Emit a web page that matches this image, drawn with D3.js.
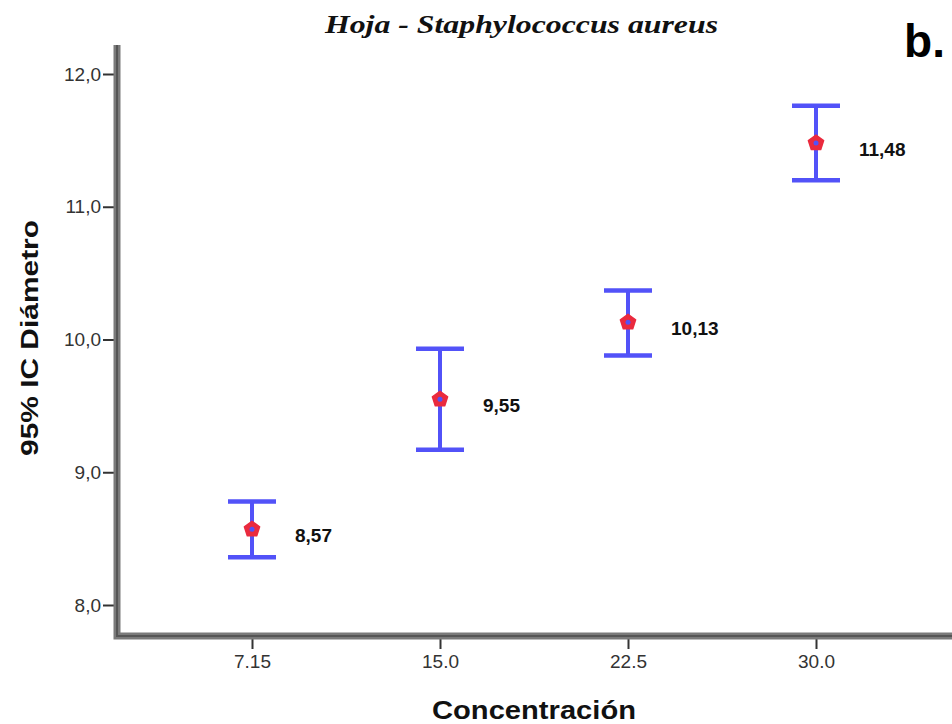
<!DOCTYPE html>
<html>
<head>
<meta charset="utf-8">
<script src="https://cdn.jsdelivr.net/npm/d3@7"></script>
<style>
  body { margin: 0; background: #fff; }
</style>
</head>
<body>
<div id="chart"></div>
<script>
// data
const categories = ["7.15", "15.0", "22.5", "30.0"];
const means = [8.57, 9.55, 10.13, 11.48];
const lowerCI = [8.36, 9.17, 9.88, 11.20];
const upperCI = [8.78, 9.93, 10.37, 11.76];
const yTicks = [8, 9, 10, 11, 12];

const width = 952;
const height = 724;
const axisX = 117, axisY = 636;
const sans = "'Liberation Sans', Arial, sans-serif";

let svg = d3.select("#chart")
            .append("svg")
            .attr("width", width)
            .attr("height", height);

let yScale = d3.scaleLinear()
            .domain([8, 12])
            .range([605, 74]);

let xScale = d3.scalePoint()
            .domain(categories)
            .range([252, 816]);

const rows = categories.map(function(c, i) {
    return {cat: c, mean: means[i], lo: lowerCI[i], hi: upperCI[i]};
});

// title
svg.append("text")
    .attr("x", 325).attr("y", 33)
    .attr("textLength", 393)
    .attr("lengthAdjust", "spacingAndGlyphs")
    .style("font-family", "'Liberation Serif', 'DejaVu Serif', serif")
    .style("font-style", "italic")
    .style("font-weight", "bold")
    .style("font-size", "25px")
    .style("fill", "#111")
    .text("Hoja - Staphylococcus aureus");

svg.append("text")
    .attr("x", 945).attr("y", 57)
    .attr("text-anchor", "end")
    .style("font-family", sans)
    .style("font-weight", "bold")
    .style("font-size", "46px")
    .text("b.");

// y axis
let yAxis = svg.append("g")
    .attr("transform", "translate(" + (axisX - 3) + ",0)")
    .call(d3.axisLeft(yScale).tickValues(yTicks).tickSize(11).tickPadding(2)
        .tickFormat(function(d) { return d3.format(".1f")(d).replace(".", ","); }));
yAxis.select(".domain").remove();
yAxis.selectAll(".tick line").style("stroke", "#333").style("stroke-width", 2);
yAxis.selectAll(".tick text")
    .style("font-family", sans)
    .style("font-size", "19px")
    .style("fill", "#333");

// x axis
let xAxis = svg.append("g")
    .attr("transform", "translate(0," + (axisY + 3) + ")")
    .call(d3.axisBottom(xScale).tickSize(10).tickPadding(6));
xAxis.select(".domain").remove();
xAxis.selectAll(".tick line").style("stroke", "#333").style("stroke-width", 2);
xAxis.selectAll(".tick text")
    .style("font-family", sans)
    .style("font-size", "19px")
    .style("fill", "#333");

// thick gray axis lines
svg.append("path")
    .attr("d", "M" + axisX + ",45 V" + axisY + " H" + width)
    .style("fill", "none")
    .style("stroke", "#7a7a7a")
    .style("stroke-width", 7);
svg.append("path")
    .attr("d", "M" + axisX + ",45 V" + axisY + " H" + width)
    .style("fill", "none")
    .style("stroke", "#555")
    .style("stroke-width", 2);

// axis titles
svg.append("text")
    .attr("x", 432).attr("y", 719)
    .attr("textLength", 204)
    .attr("lengthAdjust", "spacingAndGlyphs")
    .style("font-family", sans)
    .style("font-weight", "bold")
    .style("font-size", "25px")
    .style("fill", "#111")
    .text("Concentración");

svg.append("text")
    .attr("transform", "translate(38,456) rotate(-90)")
    .attr("textLength", 236)
    .attr("lengthAdjust", "spacingAndGlyphs")
    .style("font-family", sans)
    .style("font-weight", "bold")
    .style("font-size", "24px")
    .style("fill", "#111")
    .text("95% IC Diámetro");

// error bars
const blue = "#5252f8";
let bars = svg.append("g").selectAll("g")
    .data(rows)
    .enter()
    .append("g");

bars.append("line")
    .attr("x1", function(d) { return xScale(d.cat); })
    .attr("x2", function(d) { return xScale(d.cat); })
    .attr("y1", function(d) { return yScale(d.lo); })
    .attr("y2", function(d) { return yScale(d.hi); })
    .style("stroke", blue).style("stroke-width", 4);

bars.append("line")
    .attr("x1", function(d) { return xScale(d.cat) - 24; })
    .attr("x2", function(d) { return xScale(d.cat) + 24; })
    .attr("y1", function(d) { return yScale(d.hi); })
    .attr("y2", function(d) { return yScale(d.hi); })
    .style("stroke", blue).style("stroke-width", 4.5);

bars.append("line")
    .attr("x1", function(d) { return xScale(d.cat) - 24; })
    .attr("x2", function(d) { return xScale(d.cat) + 24; })
    .attr("y1", function(d) { return yScale(d.lo); })
    .attr("y2", function(d) { return yScale(d.lo); })
    .style("stroke", blue).style("stroke-width", 4.5);

// mean markers (red pentagon with a blue dot)
function pentagon(r) {
    let pts = [];
    for (let k = 0; k < 5; k++) {
        let a = -Math.PI / 2 + k * 2 * Math.PI / 5;
        pts.push([r * Math.cos(a), r * Math.sin(a)]);
    }
    return "M" + pts.join("L") + "Z";
}
bars.append("path")
    .attr("d", pentagon(8))
    .attr("transform", function(d) { return "translate(" + xScale(d.cat) + "," + yScale(d.mean) + ")"; })
    .style("fill", "#ea2a3e")
    .style("stroke", "#ea2a3e")
    .style("stroke-width", 1.5)
    .style("stroke-linejoin", "round");

bars.append("circle")
    .attr("cx", function(d) { return xScale(d.cat); })
    .attr("cy", function(d) { return yScale(d.mean); })
    .attr("r", 2.5)
    .style("fill", blue);

// value labels
bars.append("text")
    .attr("x", function(d) { return xScale(d.cat) + 43; })
    .attr("y", function(d) { return yScale(d.mean) + 13; })
    .style("font-family", sans)
    .style("font-weight", "bold")
    .style("font-size", "19px")
    .style("fill", "#111")
    .text(function(d) { return d3.format(".2f")(d.mean).replace(".", ","); });
</script>
</body>
</html>
